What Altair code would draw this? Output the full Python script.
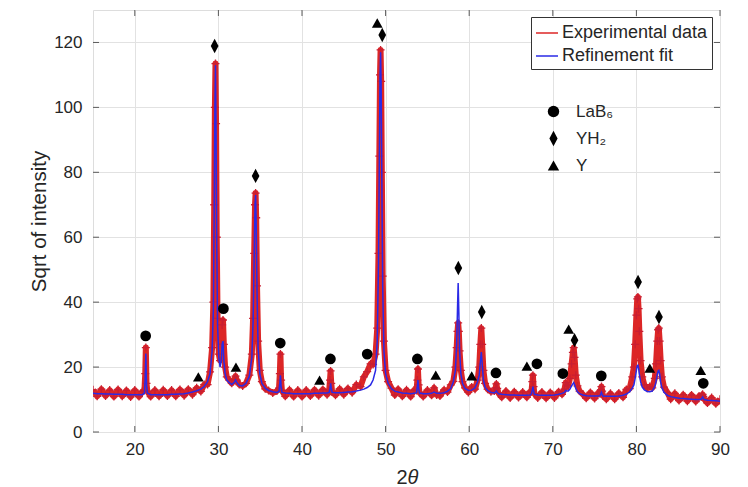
import altair as alt
import pandas as pd

# ---------------- data ----------------
two_theta = [
    15, 15.5, 16, 16.5, 17, 17.5, 18, 18.5, 19, 19.5, 20, 20.5, 20.9,
    21.15, 21.25, 21.32, 21.4, 21.5,
    21.9, 22.4, 22.9, 23.4, 23.9, 24.4, 24.9, 25.4, 25.9, 26.4, 26.9, 27.4, 27.9, 28.3, 28.7,
    29.0, 29.25, 29.4, 29.5, 29.58, 29.65, 29.72, 29.8, 29.9, 30.05, 30.2,
    30.35, 30.45, 30.55, 30.65, 30.8, 31.0, 31.3,
    31.6, 31.9, 32.05, 32.2, 32.5, 32.9, 33.3, 33.7, 34.0,
    34.15, 34.28, 34.38, 34.45, 34.52, 34.62, 34.75, 34.95, 35.2, 35.6, 36.0, 36.5, 37.0,
    37.25, 37.35, 37.42, 37.5, 37.6,
    38.0, 38.5, 39.0, 39.5, 40.0, 40.5, 41.0, 41.5, 42.0, 42.5, 43.0,
    43.25, 43.35, 43.42, 43.5, 43.6,
    44.0, 44.5, 45.0, 45.5, 46.0, 46.5, 47.0, 47.4, 47.8, 48.2, 48.5, 48.8,
    49.0, 49.15, 49.25, 49.33, 49.4, 49.47, 49.55, 49.65, 49.8, 50.0, 50.3, 50.7,
    51.1, 51.5, 52.0, 52.5, 53.0, 53.4,
    53.7, 53.8, 53.87, 53.95, 54.05,
    54.5, 55.0, 55.5, 55.8, 56.1, 56.5, 57.0, 57.4, 57.8, 58.1,
    58.35, 58.5, 58.6, 58.68, 58.76, 58.85, 59.0, 59.2, 59.5,
    59.9, 60.3, 60.7, 61.0,
    61.2, 61.33, 61.45, 61.55, 61.7, 61.9, 62.2, 62.6,
    63.0, 63.15, 63.25, 63.35, 63.5,
    63.9, 64.4, 64.9, 65.4, 65.9, 66.4, 66.9, 67.3,
    67.45, 67.55, 67.62, 67.7, 67.8,
    68.2, 68.7, 69.2, 69.7, 70.2, 70.7, 71.1,
    71.4, 71.55, 71.7, 71.85, 72.05, 72.25, 72.4, 72.5, 72.6, 72.75, 72.95, 73.2, 73.6,
    74.0, 74.5, 75.0, 75.4,
    75.65, 75.75, 75.82, 75.9, 76.0,
    76.4, 76.9, 77.4, 77.9, 78.4, 78.8, 79.2, 79.5,
    79.7, 79.85, 80.0, 80.1, 80.18, 80.26, 80.35, 80.5, 80.7, 80.95, 81.3,
    81.6, 81.9, 82.2,
    82.35, 82.5, 82.6, 82.68, 82.78, 82.9, 83.05, 83.3, 83.7,
    84.1, 84.6, 85.1, 85.6, 86.1, 86.6, 87.1, 87.5,
    87.75, 87.85, 87.92, 88.0, 88.1,
    88.5, 89.0, 89.5, 90.0,
]

experimental = [
    13.0, 11.0, 13.2, 11.1, 12.9, 10.9, 13.1, 11.0, 12.8, 10.8, 12.9, 10.9, 12.5,
    12.8, 18, 26, 15, 12.6,
    10.9, 12.9, 11.0, 13.0, 11.1, 12.9, 11.0, 13.1, 11.2, 13.2, 11.5, 13.6, 12.5, 14.6, 14.6,
    18.5, 26, 40, 70, 100, 113.5, 95, 60, 35, 24, 22,
    27, 33, 34.5, 27, 20, 17, 16,
    15.0, 16.2, 17.2, 16.0, 14.6, 14.2, 15.0, 17.5, 24,
    35, 55, 70, 73.6, 66, 45, 28, 19, 15.5, 13.3, 12.8, 12.0, 12.6,
    13.5, 18, 24, 16, 12.8,
    11.0, 13.0, 10.9, 12.9, 10.9, 12.9, 11.1, 13.0, 11.2, 13.1, 11.5,
    12.8, 16, 18.8, 15, 12.4,
    11.3, 13.3, 11.5, 13.4, 12.1, 14.6, 14.0, 17.0, 18.6, 21.0, 20.8, 24,
    32, 55, 85, 110, 117.7, 108, 80, 48, 28, 19, 15.5, 13.5,
    11.4, 13.2, 11.0, 13.0, 10.9, 12.9,
    12.8, 16, 19.4, 14.5, 12.2,
    10.9, 12.9, 11.3, 13.6, 11.4, 11.1, 13.0, 12.3, 14.5, 15.6,
    20, 26, 31, 33.6, 31, 25, 19, 15.5, 13.6,
    12.2, 13.9, 13.2, 16,
    20, 27, 32, 27, 19, 15, 13.2, 12.4,
    12.6, 13.6, 14.8, 13.4, 12.0,
    10.7, 12.6, 10.5, 12.4, 10.6, 12.3, 10.7, 12.5,
    12.4, 15.5, 17.5, 14, 11.8,
    10.5, 12.3, 10.4, 12.2, 10.5, 12.4, 11.6,
    13.2, 15.2, 14.5, 14.2, 16.5, 21, 24.5, 26, 23, 17.5, 14.2, 12.6, 11.6,
    10.4, 12.2, 10.3, 12.0,
    11.8, 13, 14, 12.6, 11.2,
    10.1, 11.9, 10.1, 12.0, 10.7, 13.1, 13.4, 17.0,
    20, 27, 36, 41, 41.6, 38, 31, 22, 17, 14.5, 13.5,
    14.0, 13.6, 16.5,
    21, 28, 31.5, 32, 28, 22, 17, 13.8, 12.2,
    10.1, 11.9, 9.7, 11.5, 9.5, 11.4, 9.4, 11.1,
    10.8, 11.3, 11.6, 11.0, 10.2,
    8.9, 10.6, 8.7, 10.1,
]

refinement = [
    11.9, 11.8, 11.8, 11.7, 11.7, 11.6, 11.6, 11.6, 11.5, 11.5, 11.5, 11.5, 11.5,
    12.0, 17, 24.2, 14.5, 12.0,
    11.5, 11.5, 11.5, 11.5, 11.5, 11.6, 11.6, 11.7, 11.8, 12.0, 12.3, 12.7, 13.2, 14.0, 15.5,
    18, 25, 38, 68, 100, 113, 92, 58, 33, 23, 20,
    22, 27, 28, 22, 18, 16, 15.2,
    14.6, 15.3, 16.0, 15.3, 14.3, 14.2, 15.0, 17.2, 23,
    34, 54, 70, 73, 64, 43, 26, 18, 15, 13.5, 12.8, 12.4, 12.2,
    12.5, 15, 17.5, 14, 12.2,
    12.0, 11.9, 11.8, 11.8, 11.8, 11.8, 11.8, 11.9, 11.9, 12.0, 12.0,
    12.2, 13.5, 15, 13.5, 12.2,
    12.1, 12.1, 12.2, 12.3, 12.4, 12.6, 12.9, 13.2, 13.7, 14.5, 16, 19,
    28, 52, 83, 109, 117, 106, 78, 45, 25, 18, 15, 13.3,
    12.6, 12.3, 12.0, 11.9, 11.8, 11.9,
    12.1, 14, 16, 13.5, 12.0,
    11.8, 11.8, 11.9, 12.3, 11.9, 11.9, 12.1, 12.5, 13.4, 15.5,
    19, 27, 38, 45.9, 37, 25, 18, 15, 13.4,
    12.8, 12.9, 13.6, 15.5,
    17.5, 21.5, 24.6, 21, 16, 13.8, 12.8, 12.2,
    12.0, 12.3, 12.6, 12.2, 11.8,
    11.6, 11.5, 11.4, 11.4, 11.3, 11.3, 11.3, 11.4,
    11.8, 13, 14, 12.8, 11.6,
    11.4, 11.3, 11.3, 11.3, 11.4, 11.6, 11.9,
    12.2, 12.8, 12.6, 12.6, 13.2, 14.2, 14.8, 15.2, 14.6, 13.4, 12.4, 11.8, 11.4,
    11.2, 11.1, 11.1, 11.1,
    11.2, 11.8, 12.2, 11.6, 11.1,
    11.0, 11.0, 11.0, 11.1, 11.3, 11.7, 12.4, 13.5,
    14.5, 16.5, 19, 20.4, 20.6, 19.8, 17.8, 15.5, 13.8, 13.0, 12.5,
    12.4, 12.6, 14,
    15.5, 17.8, 18.8, 19, 18, 15.5, 13.6, 12.2, 11.3,
    10.9, 10.6, 10.4, 10.3, 10.2, 10.1, 10.0, 10.0,
    10.1, 10.5, 10.8, 10.4, 10.0,
    9.8, 9.7, 9.6, 9.5,
]

# phase markers
lab6_x = [21.3, 30.6, 37.4, 43.4, 47.8, 53.8, 63.2, 68.1, 71.2, 75.8, 88.0]
lab6_y = [29.6, 38.0, 27.4, 22.5, 24.0, 22.5, 18.2, 21.0, 18.0, 17.3, 15.0]
yh2_x = [29.55, 34.45, 49.6, 58.7, 61.5, 72.6, 80.2, 82.7]
yh2_y = [118.9, 78.9, 122.3, 50.5, 37.0, 28.3, 46.2, 35.4]
y_x = [27.6, 32.1, 42.1, 49.0, 56.0, 60.3, 66.9, 71.9, 81.6, 87.7]
y_y = [17.0, 20.0, 16.0, 126.0, 17.5, 17.3, 20.3, 31.7, 19.7, 19.0]

phase_names = ["LaB\u2086", "YH\u2082", "Y"]
series_names = ["Experimental data", "Refinement fit"]
x_ticks = [20, 30, 40, 50, 60, 70, 80, 90]
y_ticks = [0, 20, 40, 60, 80, 100, 120]

# ---------------- styling ----------------
W, H = 627, 422
FONT = "Liberation Sans"
RED = "#dc2626"
RED_MARK = "#c81e32"
BLUE = "#2a2ae6"
GRID = "#e2e2e2"
FRAME = "#5a5a5a"
TXT = "#262626"

PLUS = "M-1,0L1,0M0,-1L0,1"
DIAMOND = "M0,-1.35L0.72,0L0,1.35L-0.72,0Z"

df_exp = pd.DataFrame({"x": two_theta, "y": experimental, "series": series_names[0]})
df_fit = pd.DataFrame({"x": two_theta, "y": refinement, "series": series_names[1]})
df_ph = pd.concat([
    pd.DataFrame({"x": lab6_x, "y": lab6_y, "phase": phase_names[0]}),
    pd.DataFrame({"x": yh2_x, "y": yh2_y, "phase": phase_names[1]}),
    pd.DataFrame({"x": y_x, "y": y_y, "phase": phase_names[2]}),
])
df_xt = pd.DataFrame({"v": x_ticks})
df_yt = pd.DataFrame({"v": y_ticks})
df_one = pd.DataFrame({"k": [0]})

xs = alt.Scale(domain=[15, 90], nice=False, zero=False)
ys = alt.Scale(domain=[0, 130], nice=False, zero=False)

xaxis = alt.Axis(values=x_ticks, title=None, grid=True, gridColor=GRID, ticks=False,
                 domain=False, labelFontSize=17, labelFont=FONT, labelColor=TXT,
                 labelPadding=9, labelFlush=False)
yaxis = alt.Axis(values=y_ticks, title="Sqrt of intensity", grid=True, gridColor=GRID,
                 ticks=False, domain=False, labelFontSize=17, labelFont=FONT,
                 labelColor=TXT, labelPadding=11, titleFontSize=20.5, titleFont=FONT,
                 titleFontWeight="normal", titleColor=TXT, titleX=-54, titleY=H / 2,
                 titleAngle=-90, titleAlign="center", titleBaseline="middle")

X = alt.X("x:Q", scale=xs, axis=xaxis)
Y = alt.Y("y:Q", scale=ys, axis=yaxis)

color_scale = alt.Scale(domain=series_names, range=[RED, BLUE])

exp_line = alt.Chart(df_exp).mark_line(strokeWidth=6, strokeJoin="round", color=RED,
                                       clip=True).encode(x=X, y=Y)
exp_pts = alt.Chart(df_exp).mark_point(shape=PLUS, size=64, strokeWidth=1.3,
                                       filled=False, color=RED_MARK, opacity=1,
                                       clip=True).encode(x=X, y=Y)
fit_line = alt.Chart(df_fit).mark_line(strokeWidth=1.5, clip=True).encode(
    x=X, y=Y,
    color=alt.Color("series:N", scale=color_scale, legend=alt.Legend(
        title=None, orient="none", legendX=438, legendY=7, direction="vertical",
        strokeColor="#333333", fillColor="white", padding=4, symbolType="stroke",
        symbolSize=484, symbolStrokeWidth=1.5, labelOffset=3, labelFontSize=18,
        labelFont=FONT, labelColor=TXT, rowPadding=2)),
)

markers = alt.Chart(df_ph).mark_point(filled=True, size=115, opacity=1, color="black").encode(
    x=X, y=Y,
    shape=alt.Shape("phase:N", scale=alt.Scale(domain=phase_names,
                                               range=["circle", DIAMOND, "triangle-up"]),
                    legend=alt.Legend(title=None, orient="none", legendX=452, legendY=93,
                                      direction="vertical", symbolSize=130,
                                      symbolFillColor="black", symbolStrokeColor="black",
                                      labelOffset=14, labelFontSize=17, labelFont=FONT,
                                      labelColor=TXT, rowPadding=6, padding=0)),
)

# inward tick marks on all four sides
tick_b = alt.Chart(df_xt).mark_rule(color=FRAME).encode(
    x=alt.X("v:Q", scale=xs, axis=xaxis), y=alt.value(H), y2=alt.value(H - 6))
tick_t = alt.Chart(df_xt).mark_rule(color=FRAME).encode(
    x=alt.X("v:Q", scale=xs, axis=xaxis), y=alt.value(0), y2=alt.value(6))
tick_l = alt.Chart(df_yt).mark_rule(color=FRAME).encode(
    y=alt.Y("v:Q", scale=ys, axis=yaxis), x=alt.value(0), x2=alt.value(6))
tick_r = alt.Chart(df_yt).mark_rule(color=FRAME).encode(
    y=alt.Y("v:Q", scale=ys, axis=yaxis), x=alt.value(W), x2=alt.value(W - 6))

# x-axis title: upright "2", italic theta
t2 = alt.Chart(df_one).mark_text(text="2", align="right", baseline="middle", fontSize=20,
                                 font=FONT, color=TXT).encode(
    x=alt.value(W / 2 + 1), y=alt.value(H + 46))
ttheta = alt.Chart(df_one).mark_text(text="\u03b8", align="left", baseline="middle",
                                     fontSize=20, font=FONT, fontStyle="italic",
                                     color=TXT).encode(
    x=alt.value(W / 2 + 1), y=alt.value(H + 46))

chart = alt.layer(
    exp_line, exp_pts, fit_line, markers, tick_b, tick_t, tick_l, tick_r, t2, ttheta
).properties(
    width=W, height=H, autosize="none",
    padding={"left": 93, "top": 10, "right": 28, "bottom": 55},
).configure_view(
    stroke=FRAME, strokeWidth=1
).configure(background="white")

chart.save("out.html", embed_options={"renderer": "svg", "actions": False})
